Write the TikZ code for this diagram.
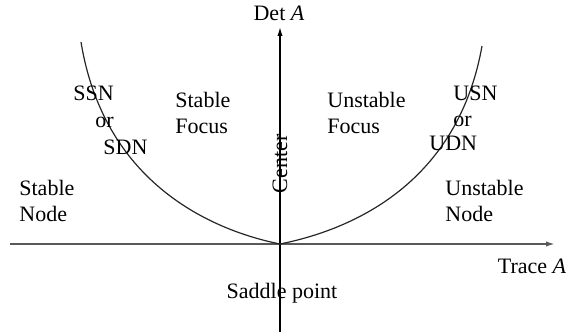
\documentclass[tikz,border=0pt]{standalone}
\usepackage{fontspec}
\setmainfont{Liberation Serif}
\usetikzlibrary{arrows.meta}

\begin{document}
\begin{tikzpicture}[
    x=0.5pt, y=0.5pt,
    font=\fontsize{11}{13}\selectfont,
    haxis/.style={draw=black!65, line width=1pt, -{Latex[length=5pt,width=2.6pt]}},
    vaxis/.style={draw=black, line width=0.65pt, -{Latex[length=4.5pt,width=2.6pt]}},
    bound/.style={draw=black!85, line width=0.6pt},
    lab/.style={inner sep=0pt, anchor=base west},
    region/.style={inner sep=0pt, anchor=north west, align=left},
]
\useasboundingbox (-280,-91) rectangle (286,244);

% ---- axes ----
\coordinate (O) at (0,0);
\coordinate (xl) at (-270,0);
\coordinate (xr) at (276,0);
\coordinate (yb) at (0,-88);
\coordinate (yt) at (0,217);
\draw[haxis] (xl) -- (xr);
\draw[vaxis] (yb) -- (yt);
\node[inner sep=0pt, anchor=base] (det) at (-1,223) {Det \textit{A}};
\node[inner sep=0pt, anchor=base] (trace) at (252,-30) {Trace \textit{A}};

% ---- boundary curve ----
\coordinate (tl) at (-199,202);
\coordinate (tr) at (202,198);
\draw[bound] (tl) .. controls (-175,55) and (-60,12) .. (O)
             .. controls (60,12) and (176,52) .. (tr);

% ---- region labels ----
\node[lab] (ssn) at (-207,143) {SSN};
\node[lab] (sor) at (-185,116) {or};
\node[lab] (sdn) at (-177,89) {SDN};
\node[lab] (usn) at (173,143) {USN};
\node[lab] (uor) at (173,117) {or};
\node[lab] (udn) at (149,93) {UDN};
\node[region] (sfocus) at (-105,152) {Stable\\Focus};
\node[region] (ufocus) at (47,152) {Unstable\\Focus};
\node[region] (snode) at (-261,64) {Stable\\Node};
\node[region] (unode) at (165,64) {Unstable\\Node};
\node[inner sep=0pt, rotate=90] (center) at (0,80) {Center};
\node[inner sep=0pt, anchor=base] (saddle) at (2,-55) {Saddle point};
\end{tikzpicture}
\end{document}
